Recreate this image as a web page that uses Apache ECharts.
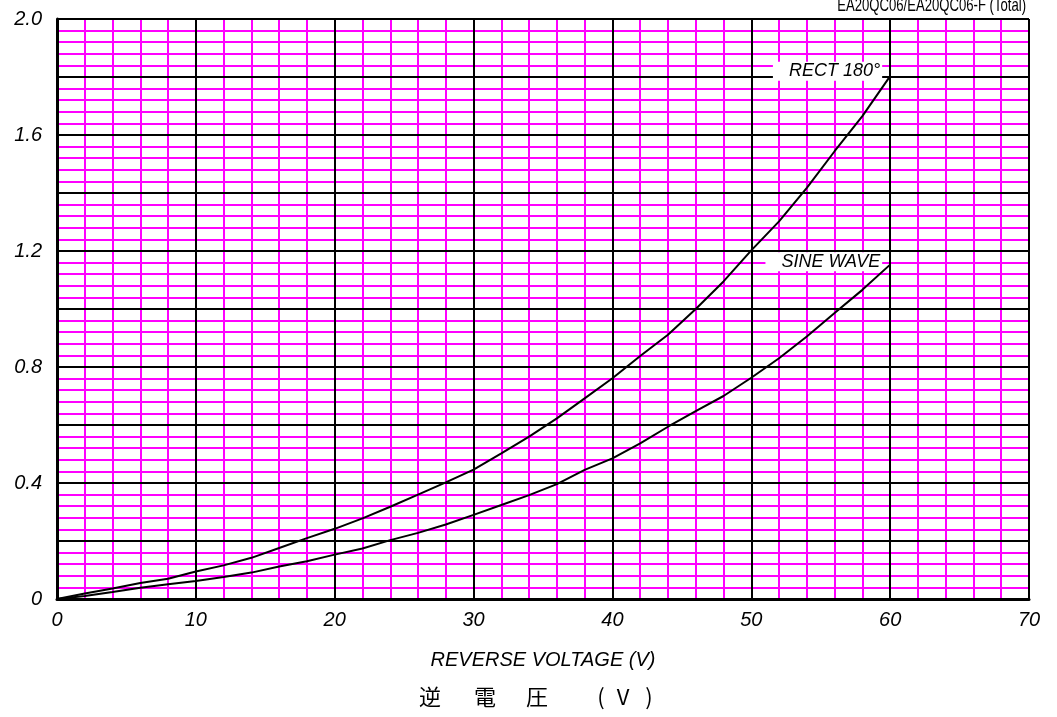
<!DOCTYPE html>
<html>
<head>
<meta charset="utf-8">
<script src="https://cdn.jsdelivr.net/npm/echarts@6/dist/echarts.min.js"></script>
<style>
html,body{margin:0;padding:0;background:#fff;}
#chart{width:1057px;height:717px;}
</style>
</head>
<body>
<div id="chart"></div>
<script>
// ---- data ----
const voltage = [0,2,4,6,8,10,12,14,16,18,20,22,24,26,28,30,32,34,36,38,40,42,44,46,48,50,52,54,56,58,60];
const rect180 = [0,0.019,0.036,0.055,0.07,0.095,0.116,0.142,0.176,0.21,0.242,0.278,0.318,0.36,0.402,0.446,0.502,0.56,0.623,0.692,0.761,0.838,0.911,1.0,1.095,1.202,1.302,1.418,1.544,1.665,1.803];
const sineWave = [0,0.01,0.024,0.039,0.051,0.062,0.076,0.091,0.112,0.13,0.153,0.174,0.203,0.228,0.257,0.29,0.324,0.358,0.396,0.445,0.485,0.537,0.594,0.648,0.7,0.763,0.83,0.905,0.986,1.066,1.153];
const seriesNames = ['RECT 180°', 'SINE WAVE'];
const xAxisTitle = 'REVERSE VOLTAGE (V)';
const xAxisTitleJa = ['逆', '電', '圧', '(', 'V', ')'];
const chartTitle = 'EA20QC06/EA20QC06-F (Total)';
const xRange = [0, 70];
const yRange = [0, 2.0];

const MAG = '#ff00ff';
const FONT = '"Liberation Sans", Arial, sans-serif';

const chart = echarts.init(document.getElementById('chart'), null, {renderer: 'canvas'});

function pairs(ys) { return voltage.map((x, i) => [x, ys[i]]); }

function endLabel(name, ys, dy) {
  const n = voltage.length - 1;
  return {
    symbol: 'circle', symbolSize: 0, silent: true,
    data: [{
      coord: [voltage[n], ys[n]],
      label: {
        show: true, position: 'left', distance: 8, offset: [0, dy],
        formatter: name, color: '#000', fontStyle: 'italic',
        fontFamily: FONT, fontSize: 18, backgroundColor: '#fff',
        padding: [1, 2, 0, 16]
      }
    }]
  };
}

const option = {
  animation: false,
  backgroundColor: '#fff',
  grid: {left: 57, right: 28, top: 19, bottom: 118, containLabel: false},
  xAxis: [
    {type: 'value', min: xRange[0], max: xRange[1], interval: 2,
     axisLine: {show: false}, axisTick: {show: false}, axisLabel: {show: false},
     splitLine: {show: true, lineStyle: {color: MAG, width: 2}}, z: 0},
    {type: 'value', min: xRange[0], max: xRange[1], interval: 10, position: 'bottom',
     axisLine: {show: true, onZero: false, lineStyle: {color: '#000', width: 3}},
     axisTick: {show: false},
     axisLabel: {show: true, margin: 11, color: '#000', fontStyle: 'italic', fontFamily: FONT, fontSize: 20},
     splitLine: {show: true, lineStyle: {color: '#000', width: 2}},
     name: xAxisTitle, nameLocation: 'middle', nameGap: 51,
     nameTextStyle: {color: '#000', fontStyle: 'italic', fontFamily: FONT, fontSize: 20},
     z: 1}
  ],
  yAxis: [
    {type: 'value', min: yRange[0], max: yRange[1], interval: 0.04,
     axisLine: {show: false}, axisTick: {show: false}, axisLabel: {show: false},
     splitLine: {show: true, lineStyle: {color: MAG, width: 2}}, z: 0},
    {type: 'value', min: yRange[0], max: yRange[1], interval: 0.2, position: 'left',
     axisLine: {show: true, onZero: false, lineStyle: {color: '#000', width: 3}},
     axisTick: {show: false},
     axisLabel: {show: true, margin: 15, color: '#000', fontStyle: 'italic', fontFamily: FONT, fontSize: 20,
       formatter: function (v) {
         const k = Math.round(v / 0.2);
         if (k % 2 !== 0) return '';
         return k === 0 ? '0' : v.toFixed(1);
       }},
     splitLine: {show: true, lineStyle: {color: '#000', width: 2}},
     z: 1}
  ],
  series: [
    {name: seriesNames[0], type: 'line', xAxisIndex: 1, yAxisIndex: 1, data: pairs(rect180),
     showSymbol: false, symbol: 'none', smooth: false, z: 5,
     lineStyle: {color: '#000', width: 2}, markPoint: endLabel(seriesNames[0], rect180, -5)},
    {name: seriesNames[1], type: 'line', xAxisIndex: 1, yAxisIndex: 1, data: pairs(sineWave),
     showSymbol: false, symbol: 'none', smooth: false, z: 5,
     lineStyle: {color: '#000', width: 2}, markPoint: endLabel(seriesNames[1], sineWave, -3)}
  ],
  graphic: [
    {type: 'text', x: 1026, y: 15, scaleX: 0.69, silent: true,
     style: {text: chartTitle, fill: '#000', font: '19px ' + FONT, textAlign: 'right', textVerticalAlign: 'bottom'}}
  ].concat(xAxisTitleJa.map((ch, i) => ({
     type: 'text', x: [430, 485, 537, 601, 623, 649][i], y: 697, silent: true,
     style: {text: ch, fill: '#000', font: '22px "Noto Sans CJK JP", sans-serif', textAlign: 'center', textVerticalAlign: 'middle'}
  })))
};

chart.setOption(option);
</script>
</body>
</html>
